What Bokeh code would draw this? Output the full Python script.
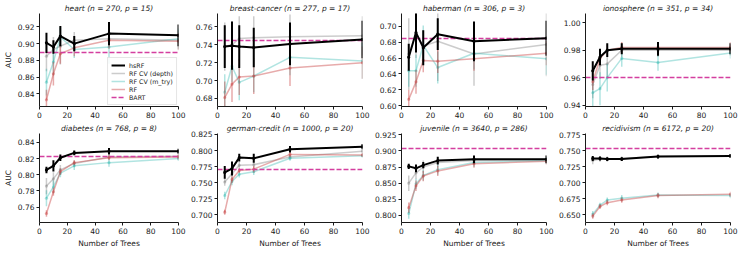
from bokeh.plotting import figure
from bokeh.layouts import column, row
from bokeh.models import (Range1d, FixedTicker, PrintfTickFormatter, ColumnDataSource,
                          Legend, LegendItem)
from bokeh.embed import file_html
from bokeh.resources import INLINE

# ---------------- data ----------------
N_TREES = [5, 10, 15, 25, 50, 100]
X_TICKS = [0, 20, 40, 60, 80, 100]
SERIES = ["hsRF", "RF CV (depth)", "RF CV (m_try)", "RF", "BART"]

heart_title = "heart (n = 270, p = 15)"
heart_hsrf = [0.901, 0.896, 0.909, 0.900, 0.912, 0.910]
heart_hsrf_err = [0.012, 0.008, 0.012, 0.009, 0.014, 0.013]
heart_depth = [0.885, 0.893, 0.897, 0.904, 0.906, 0.904]
heart_depth_err = [0.018, 0.015, 0.022, 0.010, 0.010, 0.012]
heart_mtry = [0.854, 0.878, 0.908, 0.893, 0.896, 0.906]
heart_mtry_err = [0.016, 0.016, 0.012, 0.010, 0.020, 0.012]
heart_rf = [0.833, 0.864, 0.888, 0.895, 0.904, 0.903]
heart_rf_err = [0.012, 0.014, 0.012, 0.010, 0.010, 0.010]
heart_bart = 0.890
heart_ylim = [0.825, 0.936]
heart_yticks = [0.84, 0.86, 0.88, 0.90, 0.92]

breast_title = "breast-cancer (n = 277, p = 17)"
breast_hsrf = [0.738, 0.739, 0.738, 0.737, 0.741, 0.746]
breast_hsrf_err = [0.024, 0.027, 0.024, 0.022, 0.024, 0.021]
breast_depth = [0.738, 0.740, 0.747, 0.748, 0.749, 0.750]
breast_depth_err = [0.027, 0.026, 0.025, 0.024, 0.025, 0.022]
breast_mtry = [0.687, 0.716, 0.698, 0.705, 0.726, 0.722]
breast_mtry_err = [0.020, 0.018, 0.020, 0.018, 0.020, 0.020]
breast_rf = [0.681, 0.696, 0.704, 0.705, 0.714, 0.720]
breast_rf_err = [0.018, 0.020, 0.020, 0.020, 0.020, 0.018]
breast_bart = 0.745
breast_ylim = [0.671, 0.775]
breast_yticks = [0.68, 0.70, 0.72, 0.74, 0.76]

haberman_title = "haberman (n = 306, p = 3)"
haberman_hsrf = [0.661, 0.692, 0.673, 0.690, 0.681, 0.685]
haberman_hsrf_err = [0.017, 0.025, 0.022, 0.020, 0.025, 0.022]
haberman_depth = [0.665, 0.690, 0.675, 0.681, 0.665, 0.677]
haberman_depth_err = [0.045, 0.030, 0.020, 0.050, 0.040, 0.040]
haberman_mtry = [0.644, 0.644, 0.676, 0.648, 0.666, 0.659]
haberman_mtry_err = [0.020, 0.020, 0.025, 0.020, 0.020, 0.020]
haberman_rf = [0.608, 0.630, 0.657, 0.656, 0.659, 0.666]
haberman_rf_err = [0.012, 0.015, 0.015, 0.015, 0.015, 0.015]
haberman_bart = 0.685
haberman_ylim = [0.599, 0.716]
haberman_yticks = [0.60, 0.62, 0.64, 0.66, 0.68, 0.70]

iono_title = "ionosphere (n = 351, p = 34)"
iono_hsrf = [0.965, 0.975, 0.980, 0.981, 0.981, 0.981]
iono_hsrf_err = [0.007, 0.006, 0.005, 0.004, 0.005, 0.004]
iono_depth = [0.955, 0.969, 0.970, 0.980, 0.980, 0.980]
iono_depth_err = [0.010, 0.010, 0.010, 0.005, 0.005, 0.004]
iono_mtry = [0.949, 0.952, 0.960, 0.974, 0.971, 0.978]
iono_mtry_err = [0.012, 0.012, 0.010, 0.006, 0.006, 0.004]
iono_rf = [0.957, 0.974, 0.980, 0.982, 0.982, 0.982]
iono_rf_err = [0.006, 0.005, 0.004, 0.004, 0.004, 0.004]
iono_bart = 0.960
iono_ylim = [0.939, 1.0067]
iono_yticks = [0.94, 0.96, 0.98, 1.00]

diabetes_title = "diabetes (n = 768, p = 8)"
diabetes_hsrf = [0.806, 0.811, 0.821, 0.827, 0.829, 0.829]
diabetes_hsrf_err = [0.004, 0.007, 0.004, 0.003, 0.004, 0.003]
diabetes_depth = [0.786, 0.795, 0.806, 0.814, 0.822, 0.823]
diabetes_depth_err = [0.010, 0.008, 0.006, 0.004, 0.003, 0.003]
diabetes_mtry = [0.771, 0.785, 0.802, 0.811, 0.815, 0.820]
diabetes_mtry_err = [0.010, 0.008, 0.005, 0.005, 0.005, 0.003]
diabetes_rf = [0.752, 0.779, 0.804, 0.815, 0.821, 0.822]
diabetes_rf_err = [0.004, 0.005, 0.004, 0.003, 0.003, 0.003]
diabetes_bart = 0.823
diabetes_ylim = [0.741, 0.851]
diabetes_yticks = [0.76, 0.78, 0.80, 0.82, 0.84]

german_title = "german-credit (n = 1000, p = 20)"
german_hsrf = [0.766, 0.772, 0.789, 0.788, 0.802, 0.806]
german_hsrf_err = [0.010, 0.011, 0.006, 0.007, 0.005, 0.004]
german_depth = [0.751, 0.764, 0.777, 0.778, 0.790, 0.799]
german_depth_err = [0.006, 0.007, 0.005, 0.005, 0.004, 0.004]
german_mtry = [0.730, 0.752, 0.763, 0.767, 0.788, 0.792]
german_mtry_err = [0.006, 0.006, 0.005, 0.005, 0.004, 0.003]
german_rf = [0.704, 0.755, 0.769, 0.771, 0.794, 0.793]
german_rf_err = [0.004, 0.005, 0.004, 0.005, 0.004, 0.003]
german_bart = 0.770
german_ylim = [0.688, 0.8265]
german_yticks = [0.700, 0.725, 0.750, 0.775, 0.800, 0.825]

juvenile_title = "juvenile (n = 3640, p = 286)"
juvenile_hsrf = [0.876, 0.873, 0.878, 0.885, 0.887, 0.887]
juvenile_hsrf_err = [0.004, 0.006, 0.005, 0.006, 0.006, 0.006]
juvenile_depth = [0.850, 0.866, 0.875, 0.882, 0.885, 0.887]
juvenile_depth_err = [0.012, 0.010, 0.010, 0.008, 0.007, 0.006]
juvenile_mtry = [0.803, 0.849, 0.862, 0.871, 0.882, 0.885]
juvenile_mtry_err = [0.008, 0.008, 0.008, 0.008, 0.007, 0.005]
juvenile_rf = [0.812, 0.846, 0.861, 0.869, 0.880, 0.884]
juvenile_rf_err = [0.008, 0.008, 0.008, 0.008, 0.006, 0.005]
juvenile_bart = 0.904
juvenile_ylim = [0.789, 0.927]
juvenile_yticks = [0.800, 0.825, 0.850, 0.875, 0.900, 0.925]

recid_title = "recidivism (n = 6172, p = 20)"
recid_hsrf = [0.738, 0.738, 0.737, 0.737, 0.741, 0.742]
recid_hsrf_err = [0.004, 0.003, 0.003, 0.003, 0.003, 0.003]
recid_depth = [0.735, 0.737, 0.737, 0.738, 0.741, 0.742]
recid_depth_err = [0.006, 0.004, 0.004, 0.003, 0.003, 0.003]
recid_mtry = [0.651, 0.665, 0.673, 0.676, 0.681, 0.680]
recid_mtry_err = [0.005, 0.004, 0.004, 0.005, 0.004, 0.004]
recid_rf = [0.648, 0.663, 0.669, 0.673, 0.680, 0.682]
recid_rf_err = [0.004, 0.004, 0.004, 0.004, 0.004, 0.004]
recid_bart = 0.753
recid_ylim = [0.638, 0.777]
recid_yticks = [0.650, 0.675, 0.700, 0.725, 0.750, 0.775]

PANELS = [
    (heart_title, heart_hsrf, heart_hsrf_err, heart_depth, heart_depth_err, heart_mtry, heart_mtry_err,
     heart_rf, heart_rf_err, heart_bart, heart_ylim, heart_yticks, "%.2f"),
    (breast_title, breast_hsrf, breast_hsrf_err, breast_depth, breast_depth_err, breast_mtry, breast_mtry_err,
     breast_rf, breast_rf_err, breast_bart, breast_ylim, breast_yticks, "%.2f"),
    (haberman_title, haberman_hsrf, haberman_hsrf_err, haberman_depth, haberman_depth_err, haberman_mtry,
     haberman_mtry_err, haberman_rf, haberman_rf_err, haberman_bart, haberman_ylim, haberman_yticks, "%.2f"),
    (iono_title, iono_hsrf, iono_hsrf_err, iono_depth, iono_depth_err, iono_mtry, iono_mtry_err,
     iono_rf, iono_rf_err, iono_bart, iono_ylim, iono_yticks, "%.2f"),
    (diabetes_title, diabetes_hsrf, diabetes_hsrf_err, diabetes_depth, diabetes_depth_err, diabetes_mtry,
     diabetes_mtry_err, diabetes_rf, diabetes_rf_err, diabetes_bart, diabetes_ylim, diabetes_yticks, "%.2f"),
    (german_title, german_hsrf, german_hsrf_err, german_depth, german_depth_err, german_mtry, german_mtry_err,
     german_rf, german_rf_err, german_bart, german_ylim, german_yticks, "%.3f"),
    (juvenile_title, juvenile_hsrf, juvenile_hsrf_err, juvenile_depth, juvenile_depth_err, juvenile_mtry,
     juvenile_mtry_err, juvenile_rf, juvenile_rf_err, juvenile_bart, juvenile_ylim, juvenile_yticks, "%.3f"),
    (recid_title, recid_hsrf, recid_hsrf_err, recid_depth, recid_depth_err, recid_mtry, recid_mtry_err,
     recid_rf, recid_rf_err, recid_bart, recid_ylim, recid_yticks, "%.3f"),
]

# ---------------- style ----------------
FONT = "DejaVu Sans"
TXT = "#1a1a1a"
C_HSRF = "black"
C_DEPTH = "gray"
C_MTRY = "lightseagreen"
C_RF = "#c94444"
C_BART = "#d43f9f"

PLOT_W = 145
RIGHT_B = 9


def make_panel(idx, spec):
    (title, hs, hs_e, dp, dp_e, mt, mt_e, rf, rf_e, bart, ylim, yticks, fmt) = spec
    colno = idx % 4
    rowno = idx // 4
    left_b = 33 if colno == 0 else 30
    top_b = 11 if rowno == 0 else 12
    plot_h = 95 if rowno == 0 else 93
    bot_b = 14 if rowno == 0 else 25
    p = figure(width=left_b + PLOT_W + RIGHT_B, height=top_b + plot_h + bot_b,
               output_backend="svg", toolbar_location=None,
               x_range=Range1d(0, 100), y_range=Range1d(ylim[0], ylim[1]),
               title=title, min_border_left=left_b, min_border_right=RIGHT_B,
               min_border_top=top_b, min_border_bottom=bot_b)
    p.title.text_font = FONT
    p.title.text_font_style = "italic"
    p.title.text_font_size = "7.5px"
    p.title.align = "center"
    p.title.text_color = TXT
    p.title.standoff = 2
    p.title.offset = 0

    p.grid.visible = False
    p.outline_line_color = None
    p.background_fill_color = "white"
    p.border_fill_color = "white"

    p.xaxis.ticker = FixedTicker(ticks=X_TICKS)
    p.yaxis.ticker = FixedTicker(ticks=yticks)
    p.yaxis.formatter = PrintfTickFormatter(format=fmt)
    for ax in p.axis:
        ax.minor_tick_line_color = None
        ax.major_tick_out = 3
        ax.major_tick_in = 0
        ax.major_label_text_font = FONT
        ax.major_label_text_font_size = "7.5px"
        ax.major_label_text_color = TXT
        ax.major_label_standoff = 2
        ax.axis_line_color = TXT
        ax.major_tick_line_color = TXT
        ax.axis_label_text_font = FONT
        ax.axis_label_text_font_size = "7.5px"
        ax.axis_label_text_font_style = "normal"
        ax.axis_label_text_color = TXT
        ax.axis_label_standoff = 2
    if colno == 0:
        p.yaxis.axis_label = "AUC"
    if rowno == 1:
        p.xaxis.axis_label = "Number of Trees"

    def series(vals, errs, color, alpha, lw):
        src = ColumnDataSource(dict(x=N_TREES, y=vals,
                                    lo=[v - e for v, e in zip(vals, errs)],
                                    hi=[v + e for v, e in zip(vals, errs)]))
        p.segment(x0="x", y0="lo", x1="x", y1="hi", source=src,
                  line_color=color, line_alpha=alpha, line_width=lw)
        ln = p.line("x", "y", source=src, line_color=color, line_alpha=alpha, line_width=lw)
        p.scatter("x", "y", source=src, marker="circle", size=3.2,
                  fill_color=color, fill_alpha=alpha, line_color=None)
        leg = p.scatter(x=[], y=[], marker="cross", size=6, line_color=color,
                        line_alpha=alpha, line_width=lw)
        return [ln, leg]

    r_depth = series(dp, dp_e, C_DEPTH, 0.4, 1.5)
    r_mtry = series(mt, mt_e, C_MTRY, 0.35, 1.5)
    r_rf = series(rf, rf_e, C_RF, 0.45, 1.5)
    r_bart = p.hspan(y=[bart], line_color=C_BART, line_width=1.4, line_dash="5 2")
    r_hs = series(hs, hs_e, C_HSRF, 1.0, 2.0)

    if idx == 0:
        items = [LegendItem(label=SERIES[0], renderers=r_hs),
                 LegendItem(label=SERIES[1], renderers=r_depth),
                 LegendItem(label=SERIES[2], renderers=r_mtry),
                 LegendItem(label=SERIES[3], renderers=r_rf),
                 LegendItem(label=SERIES[4], renderers=[r_bart])]
        leg = Legend(items=items, location="bottom_right")
        leg.label_text_font = FONT
        leg.label_text_font_size = "6.3px"
        leg.label_text_color = TXT
        leg.glyph_height = 8
        leg.glyph_width = 14
        leg.label_height = 8
        leg.label_standoff = 4
        leg.spacing = 0
        leg.padding = 3
        leg.margin = 1
        leg.border_line_color = "#cccccc"
        leg.border_line_width = 1
        leg.background_fill_alpha = 0.85
        p.add_layout(leg)
    return p


figs = [make_panel(i, spec) for i, spec in enumerate(PANELS)]
layout = column(row(*figs[:4]), row(*figs[4:]))

open("out.html", "w").write(file_html(layout, INLINE))
